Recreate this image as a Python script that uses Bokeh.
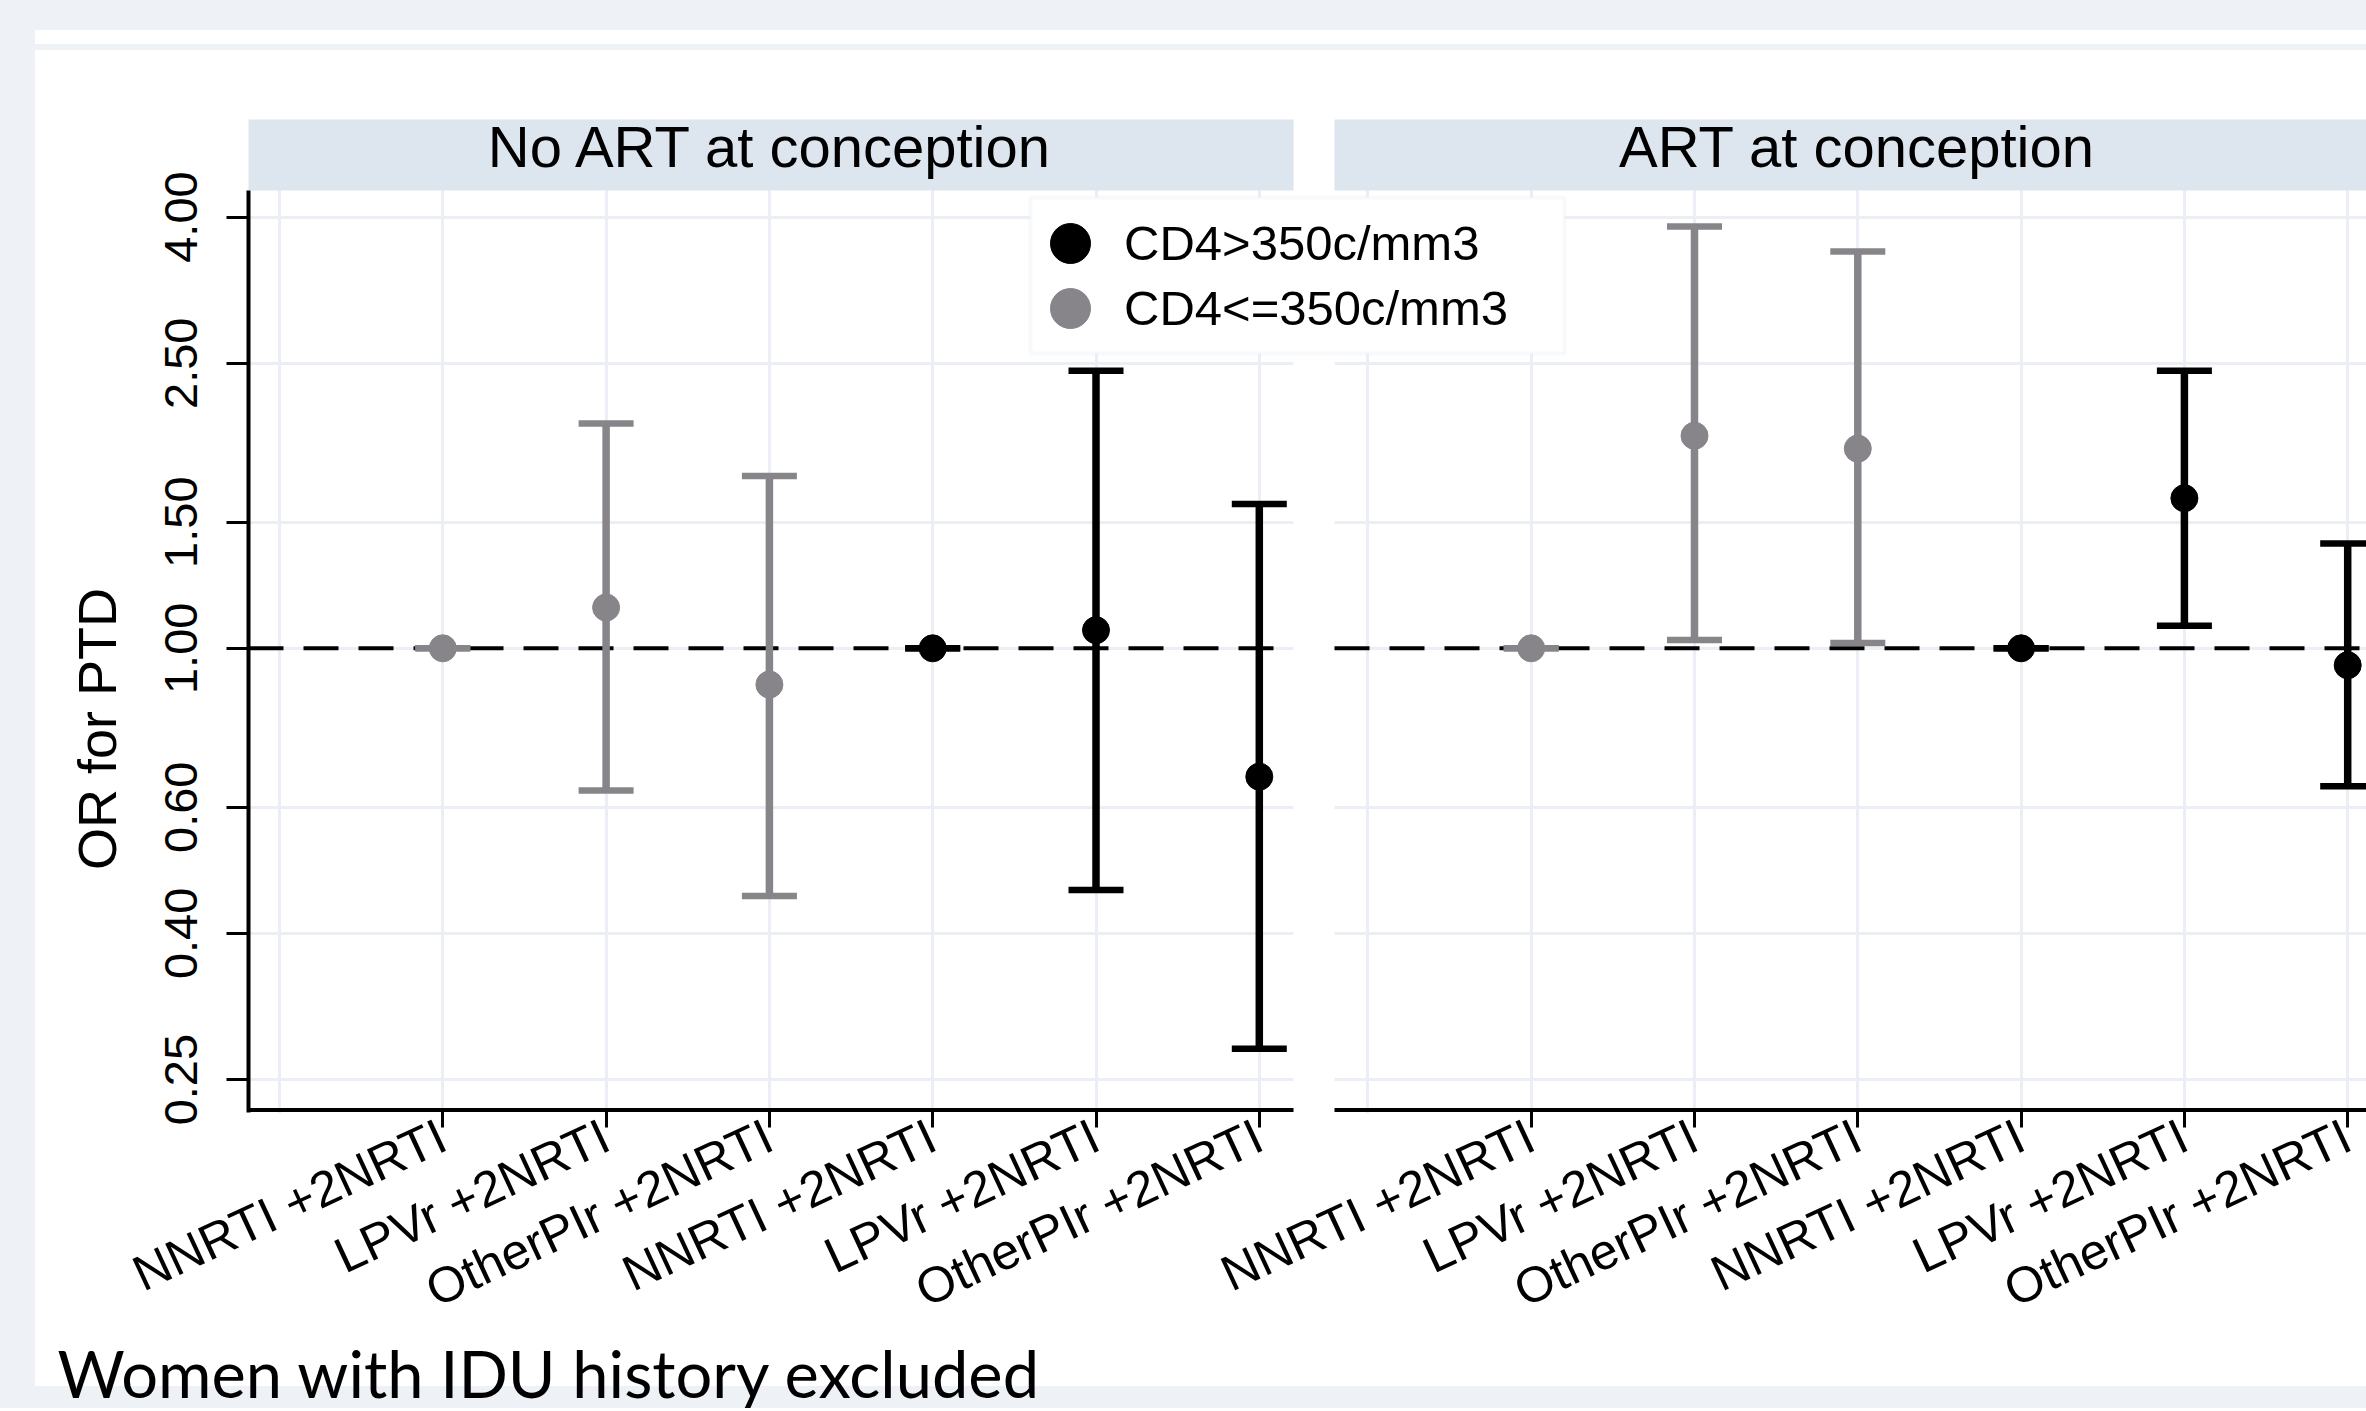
import math
from bokeh.plotting import figure
from bokeh.models import (FixedTicker, PrintfTickFormatter, Legend, LegendItem,
                          Label, ColumnDataSource, Range1d, BoxAnnotation)
from bokeh.core.properties import value
from bokeh.embed import file_html
from bokeh.resources import INLINE

# ---------------- data ----------------
panel_titles = ["No ART at conception", "ART at conception"]
regimens = ["NNRTI +2NRTI", "LPVr +2NRTI", "OtherPIr +2NRTI"]
series_names = ["CD4>350c/mm3", "CD4<=350c/mm3"]
y_tick_values = [0.25, 0.40, 0.60, 1.00, 1.50, 2.50, 4.00]
y_title = "OR for PTD"
footnote = "Women with IDU history excluded"

# No ART at conception: CD4<=350 (grey) and CD4>350 (black)
noart_low_or = [1.00, 1.14, 0.89]
noart_low_lo = [1.00, 0.633, 0.451]
noart_low_hi = [1.00, 2.06, 1.74]
noart_high_or = [1.00, 1.06, 0.662]
noart_high_lo = [1.00, 0.460, 0.276]
noart_high_hi = [1.00, 2.44, 1.59]
# ART at conception
art_low_or = [1.00, 1.98, 1.90]
art_low_lo = [1.00, 1.027, 1.017]
art_low_hi = [1.00, 3.88, 3.58]
art_high_or = [1.00, 1.62, 0.947]
art_high_lo = [1.00, 1.075, 0.642]
art_high_hi = [1.00, 2.44, 1.40]

# ---------------- layout constants (pixels) ----------------
W, H = 2366, 1408
FR_L, FR_R, FR_T, FR_B = 248, W, 119, 1113
GAP_L, GAP_R = 1293, 1334          # white gap between the two panels
HEADER_B = 190                      # bottom of the panel header strips
X_ONE, PXU = 442.3, 163.3           # pixel of category 1, pixels per category
Y_ONE, PXL = 647.8, 311.1           # pixel of OR=1, pixels per ln unit
RIGHT_OFF = 6.665                   # category offset of right panel

GREY = "#878589"
BLACK = "#000000"
STRIP = "#dde5ef"
GRID = "#ebeff5"
PAGE = "#eef2f7"
FONT = "Liberation Sans"
NBSP = "\u00a0"


def xv(px):
    return 1 + (px - X_ONE) / PXU


def yv(py):
    return math.exp((Y_ONE - py) / PXL)


left_low_pos = [1, 2, 3]
left_high_pos = [4, 5, 6]
right_low_pos = [round(v + RIGHT_OFF, 3) for v in left_low_pos]
right_high_pos = [round(v + RIGHT_OFF, 3) for v in left_high_pos]

low = ColumnDataSource(dict(
    x=left_low_pos + right_low_pos,
    y=noart_low_or + art_low_or,
    lo=noart_low_lo + art_low_lo,
    hi=noart_low_hi + art_low_hi))
high = ColumnDataSource(dict(
    x=left_high_pos + right_high_pos,
    y=noart_high_or + art_high_or,
    lo=noart_high_lo + art_high_lo,
    hi=noart_high_hi + art_high_hi))

tick_pos = [float(v) for v in left_low_pos + left_high_pos + right_low_pos + right_high_pos]
tick_lab = regimens + regimens + regimens + regimens
grid_pos = list(range(0, 7)) + [round(v + RIGHT_OFF, 3) for v in range(0, 7)]

p = figure(width=W, height=H,
           x_range=Range1d(xv(FR_L), xv(FR_R)),
           y_range=Range1d(yv(FR_B), yv(FR_T)),
           y_axis_type="log", output_backend="svg", toolbar_location=None,
           min_border_left=FR_L, min_border_right=W - FR_R,
           min_border_top=FR_T, min_border_bottom=H - FR_B)
p.background_fill_color = "white"
p.border_fill_color = None
p.outline_line_color = None
p.styles = {
    "background-color": PAGE,
    "background-image": "linear-gradient(#ffffff, #ffffff), linear-gradient(#ffffff, #ffffff)",
    "background-size": "100% 14px, 100% 1336px",
    "background-position": "35px 30px, 35px 50px",
    "background-repeat": "no-repeat",
}

# grid
p.xgrid.ticker = FixedTicker(ticks=grid_pos)
for g in (p.xgrid, p.ygrid):
    g.grid_line_color = GRID
    g.grid_line_width = 3

# white gap between panels
p.quad(left=[xv(GAP_L)], right=[xv(GAP_R)], bottom=[yv(FR_B + 50)], top=[yv(FR_T - 50)],
       fill_color="white", line_color=None)
# header strips
p.quad(left=[xv(FR_L - 10), xv(GAP_R)], right=[xv(GAP_L), xv(FR_R + 10)],
       bottom=[yv(HEADER_B)] * 2, top=[yv(FR_T - 10)] * 2,
       fill_color=STRIP, line_color=None)
p.text(x=[xv((FR_L + GAP_L) / 2), xv(GAP_R + (GAP_L - FR_L) / 2)], y=[yv(146)] * 2,
       text=panel_titles, text_align="center", text_baseline="middle",
       text_font=value(FONT), text_font_size=value("58px"), text_color="black")

# reference line at OR = 1 and x-axis lines (one per panel)
p.segment(x0=[xv(FR_L), xv(GAP_R)], x1=[xv(GAP_L), xv(FR_R + 10)], y0=[1, 1], y1=[1, 1],
          line_color="black", line_width=4, line_dash="35 20")
p.segment(x0=[xv(FR_L), xv(GAP_R)], x1=[xv(GAP_L), xv(FR_R + 10)],
          y0=[yv(1109.5)] * 2, y1=[yv(1109.5)] * 2, line_color="black", line_width=4)

# error bars, caps and points
r_pts = {}
for src, col in ((low, GREY), (high, BLACK)):
    p.segment(x0="x", x1="x", y0="lo", y1="hi", source=src, line_color=col, line_width=7.5)
    p.scatter(x="x", y="hi", source=src, marker="dash", size=55, line_color=col, line_width=6.5)
    p.scatter(x="x", y="lo", source=src, marker="dash", size=55, line_color=col, line_width=6.5)
    r_pts[col] = p.scatter(x="x", y="y", source=src, marker="circle", size=27,
                           fill_color=col, line_color=col)

# axes
xa = p.xaxis[0]
xa.ticker = FixedTicker(ticks=tick_pos)
xa.major_label_overrides = {t: l for t, l in zip(tick_pos, tick_lab)}
xa.major_label_orientation = math.radians(25)
xa.major_label_text_font = FONT
xa.major_label_text_font_size = "50px"
xa.major_label_text_color = "black"
xa.major_label_standoff = 6
xa.axis_line_color = None
xa.major_tick_out = 14
xa.major_tick_in = 4
xa.major_tick_line_width = 3
xa.minor_tick_line_color = None

ya = p.yaxis[0]
ya.ticker = FixedTicker(ticks=y_tick_values)
ya.formatter = PrintfTickFormatter(format="%.2f")
ya.major_label_orientation = "vertical"
ya.major_label_text_font = FONT
ya.major_label_text_font_size = "47px"
ya.major_label_text_color = "black"
ya.major_label_standoff = 29
ya.major_tick_out = 22
ya.major_tick_in = 0
ya.major_tick_line_width = 3
ya.minor_tick_line_color = None
ya.axis_line_width = 4
ya.bounds = (yv(1111.5), yv(HEADER_B))
# trailing non-breaking spaces shift the centred title down to where the reference has it
ya.axis_label = y_title + NBSP * 15
ya.axis_label_text_font = FONT
ya.axis_label_text_font_size = "54px"
ya.axis_label_text_font_style = "normal"
ya.axis_label_text_color = "black"
ya.axis_label_standoff = 36

# legend: white box + one legend per row (keeps the 40px markers at the reference pitch)
p.add_layout(BoxAnnotation(left=xv(1030), right=xv(1564), top=yv(197), bottom=yv(353),
                           fill_color="white", fill_alpha=1.0,
                           line_color="#e6ebf2", line_width=4))
for name, col, cy in ((series_names[0], BLACK, 243), (series_names[1], GREY, 308)):
    lg = Legend(items=[LegendItem(label=name, renderers=[r_pts[col]])],
                location=(1020 - FR_L, FR_B - (cy + 50)), margin=0, padding=0, spacing=0,
                glyph_width=100, glyph_height=100, label_standoff=4,
                label_text_font=FONT, label_text_font_size="49px", label_text_color="black",
                background_fill_alpha=0.0, border_line_color=None)
    p.add_layout(lg)

# footnote (placed in a side panel so that it is not clipped to the frame)
p.add_layout(Label(x=xv(57), y=yv(1372), text=footnote, text_font="Lato",
                   text_font_size="65px", text_color="black", text_baseline="middle"),
             "above")

open("out.html", "w").write(file_html(p, INLINE))
